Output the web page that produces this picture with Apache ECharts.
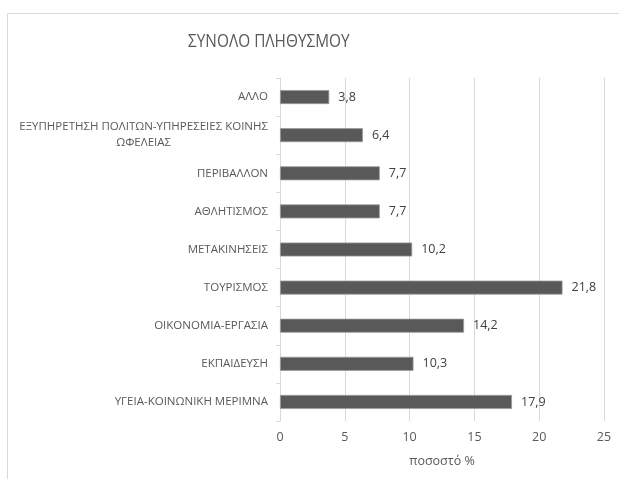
<!DOCTYPE html>
<html>
<head>
<meta charset="utf-8">
<script src="https://cdn.jsdelivr.net/npm/echarts@6/dist/echarts.min.js"></script>
<style>
  html, body { margin: 0; padding: 0; background: #fff; }
  #main { width: 619px; height: 479px; }
</style>
</head>
<body>
<div id="main"></div>
<script>
const categories = [
    'ΑΛΛΟ',
    'ΕΞΥΠΗΡΕΤΗΣΗ ΠΟΛΙΤΩΝ-ΥΠΗΡΕΣΕΙΕΣ ΚΟΙΝΗΣ ΩΦΕΛΕΙΑΣ',
    'ΠΕΡΙΒΑΛΛΟΝ',
    'ΑΘΛΗΤΙΣΜΟΣ',
    'ΜΕΤΑΚΙΝΗΣΕΙΣ',
    'ΤΟΥΡΙΣΜΟΣ',
    'ΟΙΚΟΝΟΜΙΑ-ΕΡΓΑΣΙΑ',
    'ΕΚΠΑΙΔΕΥΣΗ',
    'ΥΓΕΙΑ-ΚΟΙΝΩΝΙΚΗ ΜΕΡΙΜΝΑ'
];
const percentages = [3.8, 6.4, 7.7, 7.7, 10.2, 21.8, 14.2, 10.3, 17.9];
const xTicks = [0, 5, 10, 15, 20, 25];

const font = 'Open Sans';
const textColor = '#595959';

const chartDom = document.getElementById('main');
const myChart = echarts.init(chartDom, null, { renderer: 'canvas' });

const option = {
    animation: false,
    backgroundColor: '#fff',
    graphic: [
        {
            type: 'rect',
            shape: { x: 7.5, y: 13.5, width: 700, height: 600 },
            style: { fill: 'none', stroke: '#d9d9d9', lineWidth: 1 },
            silent: true
        },
        {
            // chart title, narrowed a bit to mimic the condensed original face
            type: 'text',
            left: 188,
            top: 32,
            scaleX: 0.81,
            style: {
                text: 'ΣΥΝΟΛΟ ΠΛΗΘΥΣΜΟΥ',
                fontFamily: font,
                fontSize: 19,
                fill: textColor
            },
            silent: true
        }
    ],
    grid: {
        left: 280,
        right: 15,
        top: 78,
        bottom: 58
    },
    xAxis: {
        type: 'value',
        min: xTicks[0],
        max: xTicks[xTicks.length - 1],
        interval: 5,
        name: 'ποσοστό %',
        nameLocation: 'middle',
        nameGap: 34,
        nameTextStyle: { fontFamily: font, fontSize: 12.5, color: textColor },
        axisLine: { show: false },
        axisTick: { show: false },
        axisLabel: { fontFamily: font, fontSize: 12.5, color: textColor, margin: 10 },
        splitLine: { lineStyle: { color: '#d9d9d9', width: 1 } }
    },
    yAxis: {
        type: 'category',
        data: categories,
        inverse: true,
        axisLine: { lineStyle: { color: '#d9d9d9' } },
        axisTick: { show: true, length: 4, lineStyle: { color: '#d9d9d9' } },
        axisLabel: {
            fontFamily: font,
            fontSize: 11.5,
            color: textColor,
            margin: 12,
            formatter: function (v) {
                if (v.indexOf('ΩΦΕΛΕΙΑΣ') >= 0) {
                    return '{c|ΕΞΥΠΗΡΕΤΗΣΗ ΠΟΛΙΤΩΝ-ΥΠΗΡΕΣΕΙΕΣ ΚΟΙΝΗΣ}\n{c|ΩΦΕΛΕΙΑΣ}';
                }
                return v;
            },
            rich: {
                c: { align: 'center', fontFamily: font, fontSize: 11.5, color: textColor, lineHeight: 16 }
            }
        }
    },
    series: [
        {
            type: 'bar',
            data: percentages,
            barWidth: 14,
            itemStyle: { color: '#595959', borderColor: '#9a9a9a', borderWidth: 0.8 },
            label: {
                show: true,
                position: 'right',
                distance: 9,
                fontFamily: font,
                fontSize: 12.5,
                color: '#404040',
                formatter: function (p) { return String(p.value).replace('.', ','); }
            }
        }
    ]
};

myChart.setOption(option);
</script>
</body>
</html>
